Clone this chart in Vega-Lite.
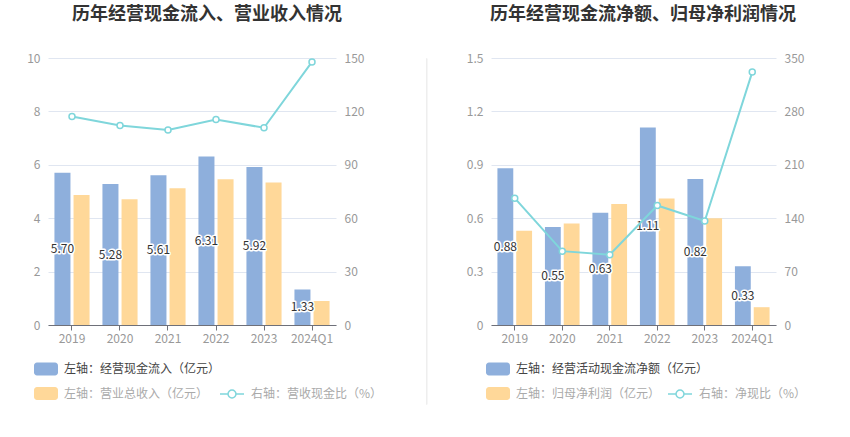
{
  "$schema": "https://vega.github.io/schema/vega-lite/v6.json",
  "padding": {"left": 26, "top": 6, "right": 0, "bottom": 0},
  "background": "#ffffff",
  "config": {
    "font": "Noto Sans CJK SC",
    "view": {"stroke": null},
    "axis": {"labelColor": "#999999", "labelFontSize": 12, "labelFont": "Noto Sans CJK SC", "title": null, "grid": false, "domain": false, "ticks": false},
    "title": {"fontSize": 18, "fontWeight": "bold", "color": "#333333", "font": "Noto Sans CJK SC"},
    "legend": {"labelFont": "Noto Sans CJK SC", "labelFontSize": 12, "labelLimit": 400, "title": null}
  },
  "datasets": {
    "lb": [
      {"year": "2019", "series": "左轴：经营现金流入（亿元）", "value": 5.70},
      {"year": "2020", "series": "左轴：经营现金流入（亿元）", "value": 5.28},
      {"year": "2021", "series": "左轴：经营现金流入（亿元）", "value": 5.61},
      {"year": "2022", "series": "左轴：经营现金流入（亿元）", "value": 6.31},
      {"year": "2023", "series": "左轴：经营现金流入（亿元）", "value": 5.92},
      {"year": "2024Q1", "series": "左轴：经营现金流入（亿元）", "value": 1.33},
      {"year": "2019", "series": "左轴：营业总收入（亿元）", "value": 4.87},
      {"year": "2020", "series": "左轴：营业总收入（亿元）", "value": 4.71},
      {"year": "2021", "series": "左轴：营业总收入（亿元）", "value": 5.12},
      {"year": "2022", "series": "左轴：营业总收入（亿元）", "value": 5.46},
      {"year": "2023", "series": "左轴：营业总收入（亿元）", "value": 5.34},
      {"year": "2024Q1", "series": "左轴：营业总收入（亿元）", "value": 0.90}
    ],
    "ll": [
      {"year": "2019", "ratio": 117.1},
      {"year": "2020", "ratio": 112.1},
      {"year": "2021", "ratio": 109.6},
      {"year": "2022", "ratio": 115.5},
      {"year": "2023", "ratio": 110.8},
      {"year": "2024Q1", "ratio": 147.8}
    ],
    "rb": [
      {"year": "2019", "series": "左轴：经营活动现金流净额（亿元）", "value": 0.88},
      {"year": "2020", "series": "左轴：经营活动现金流净额（亿元）", "value": 0.55},
      {"year": "2021", "series": "左轴：经营活动现金流净额（亿元）", "value": 0.63},
      {"year": "2022", "series": "左轴：经营活动现金流净额（亿元）", "value": 1.11},
      {"year": "2023", "series": "左轴：经营活动现金流净额（亿元）", "value": 0.82},
      {"year": "2024Q1", "series": "左轴：经营活动现金流净额（亿元）", "value": 0.33},
      {"year": "2019", "series": "左轴：归母净利润（亿元）", "value": 0.53},
      {"year": "2020", "series": "左轴：归母净利润（亿元）", "value": 0.57},
      {"year": "2021", "series": "左轴：归母净利润（亿元）", "value": 0.68},
      {"year": "2022", "series": "左轴：归母净利润（亿元）", "value": 0.71},
      {"year": "2023", "series": "左轴：归母净利润（亿元）", "value": 0.60},
      {"year": "2024Q1", "series": "左轴：归母净利润（亿元）", "value": 0.10}
    ],
    "rl": [
      {"year": "2019", "ratio": 166.3},
      {"year": "2020", "ratio": 96.8},
      {"year": "2021", "ratio": 92.0},
      {"year": "2022", "ratio": 156.7},
      {"year": "2023", "ratio": 136.3},
      {"year": "2024Q1", "ratio": 331.5}
    ]
  },
  "resolve": {"scale": {"color": "independent", "stroke": "independent"}, "legend": {"color": "independent", "stroke": "independent"}},
  "spacing": 42,
  "hconcat": [
    {
      "title": {"text": "历年经营现金流入、营业收入情况", "anchor": "middle", "dx": 15, "offset": 28},
      "width": 288,
      "height": 267,
      "layer": [
        {
          "data": {"name": "lb"},
          "encoding": {
            "x": {"field": "year", "type": "nominal", "sort": null, "scale": {"type": "band", "paddingInner": 0.27, "paddingOuter": 0.135},
              "axis": {"labelAngle": 0, "domain": true, "domainColor": "#6e7079", "ticks": true, "tickColor": "#6e7079", "tickSize": 5, "labelPadding": 3, "labelColor": "#999999"}},
            "y": {"field": "value", "type": "quantitative", "scale": {"domain": [0, 10]},
              "axis": {"values": [0, 2, 4, 6, 8, 10], "grid": true, "gridColor": "#e0e6f1", "labelPadding": 8}},
            "color": {"field": "series", "type": "nominal", "sort": null,
              "scale": {"domain": ["左轴：经营现金流入（亿元）", "左轴：营业总收入（亿元）"], "range": ["#8eafdc", "#ffd899"]},
              "legend": {"orient": "none", "legendX": -14, "legendY": 299, "direction": "vertical", "rowPadding": 5.5,
                "symbolType": "M-0.75,-0.54 H0.75 A0.25,0.25 0 0 1 1,-0.29 V0.29 A0.25,0.25 0 0 1 0.75,0.54 H-0.75 A0.25,0.25 0 0 1 -1,0.29 V-0.29 A0.25,0.25 0 0 1 -0.75,-0.54 Z",
                "symbolSize": 576, "symbolStrokeWidth": 0, "labelOffset": 6,
                "encode": {
                  "symbols": {"update": {"fill": {"signal": "datum.index === 0 ? '#8eafdc' : '#ffe9c8'"}, "opacity": {"value": 1}}},
                  "labels": {"update": {"fill": {"signal": "datum.index === 0 ? '#444444' : '#aaaaaa'"}}}
                }}
            }
          },
          "layer": [
            {
              "transform": [{"filter": "datum.series === '左轴：经营现金流入（亿元）'"}],
              "mark": {"type": "bar", "width": {"band": 0.457}, "xOffset": -9.55}
            },
            {
              "transform": [{"filter": "datum.series === '左轴：营业总收入（亿元）'"}],
              "mark": {"type": "bar", "width": {"band": 0.457}, "xOffset": 9.55}
            },
            {
              "transform": [{"filter": "datum.series === '左轴：经营现金流入（亿元）'"}, {"calculate": "datum.value / 2", "as": "mid"}],
              "mark": {"type": "text", "fontSize": 12, "stroke": "#ffffff", "strokeWidth": 3, "fill": "#ffffff", "strokeJoin": "round", "xOffset": -9.55},
              "encoding": {"color": {"value": "#ffffff"}, "y": {"field": "mid", "type": "quantitative"}, "text": {"field": "value", "type": "quantitative", "format": ".2f"}}
            },
            {
              "transform": [{"filter": "datum.series === '左轴：经营现金流入（亿元）'"}, {"calculate": "datum.value / 2", "as": "mid"}],
              "mark": {"type": "text", "fontSize": 12, "xOffset": -9.55},
              "encoding": {"color": {"value": "#333333"}, "y": {"field": "mid", "type": "quantitative"}, "text": {"field": "value", "type": "quantitative", "format": ".2f"}}
            }
          ]
        },
        {
          "data": {"name": "ll"},
          "mark": {"type": "line", "strokeWidth": 2, "point": {"filled": false, "fill": "#ffffff", "size": 36, "strokeWidth": 1.5}},
          "encoding": {
            "x": {"field": "year", "type": "nominal", "sort": null},
            "y": {"field": "ratio", "type": "quantitative", "scale": {"domain": [0, 150]},
              "axis": {"orient": "right", "values": [0, 30, 60, 90, 120, 150], "labelPadding": 8}},
            "stroke": {"datum": "右轴：营收现金比（%）", "type": "nominal", "scale": {"range": ["#7fd6db"]},
              "legend": {"orient": "none", "legendX": 171, "legendY": 323, "symbolSize": 576, "symbolStrokeWidth": 1.5, "labelOffset": 6,
                "symbolType": "M-1,0 H-0.33 M0.33,0 H1 M-0.33,0 A0.33,0.33 0 1 1 0.33,0 A0.33,0.33 0 1 1 -0.33,0 Z",
                "encode": {
                  "symbols": {"update": {"stroke": {"value": "#bfe9ec"}, "fill": {"value": "#ffffff"}, "opacity": {"value": 1}}},
                  "labels": {"update": {"fill": {"value": "#aaaaaa"}}}
                }}
            }
          }
        }
      ],
      "resolve": {"scale": {"y": "independent"}}
    },
    {
      "spacing": 39,
      "resolve": {"scale": {"color": "independent", "stroke": "independent"}, "legend": {"color": "independent", "stroke": "independent"}},
      "hconcat": [
        {
          "width": 0.5,
          "height": 346,
          "data": {"values": [{}]},
          "mark": {"type": "rule", "opacity": 0},
          "encoding": {},
          "view": {"stroke": "#eeeeee", "strokeWidth": 1}
        },
        {
          "title": {"text": "历年经营现金流净额、归母净利润情况", "anchor": "middle", "dx": 9.5, "offset": 28},
          "width": 285,
          "height": 267,
          "layer": [
            {
              "data": {"name": "rb"},
              "encoding": {
                "x": {"field": "year", "type": "nominal", "sort": null, "scale": {"type": "band", "paddingInner": 0.27, "paddingOuter": 0.135},
                  "axis": {"labelAngle": 0, "domain": true, "domainColor": "#6e7079", "ticks": true, "tickColor": "#6e7079", "tickSize": 5, "labelPadding": 3, "labelColor": "#999999"}},
                "y": {"field": "value", "type": "quantitative", "scale": {"domain": [0, 1.5]},
                  "axis": {"values": [0, 0.3, 0.6, 0.9, 1.2, 1.5], "format": ".1~f", "grid": true, "gridColor": "#e0e6f1", "labelPadding": 8}},
                "color": {"field": "series", "type": "nominal", "sort": null,
                  "scale": {"domain": ["左轴：经营活动现金流净额（亿元）", "左轴：归母净利润（亿元）"], "range": ["#8eafdc", "#ffd899"]},
                  "legend": {"orient": "none", "legendX": -5, "legendY": 299, "direction": "vertical", "rowPadding": 5.5,
                    "symbolType": "M-0.75,-0.54 H0.75 A0.25,0.25 0 0 1 1,-0.29 V0.29 A0.25,0.25 0 0 1 0.75,0.54 H-0.75 A0.25,0.25 0 0 1 -1,0.29 V-0.29 A0.25,0.25 0 0 1 -0.75,-0.54 Z",
                    "symbolSize": 576, "symbolStrokeWidth": 0, "labelOffset": 6,
                    "encode": {
                      "symbols": {"update": {"fill": {"signal": "datum.index === 0 ? '#8eafdc' : '#ffe9c8'"}, "opacity": {"value": 1}}},
                      "labels": {"update": {"fill": {"signal": "datum.index === 0 ? '#444444' : '#aaaaaa'"}}}
                    }}
                }
              },
              "layer": [
                {
                  "transform": [{"filter": "datum.series === '左轴：经营活动现金流净额（亿元）'"}],
                  "mark": {"type": "bar", "width": {"band": 0.457}, "xOffset": -9.4}
                },
                {
                  "transform": [{"filter": "datum.series === '左轴：归母净利润（亿元）'"}],
                  "mark": {"type": "bar", "width": {"band": 0.457}, "xOffset": 9.4}
                },
                {
                  "transform": [{"filter": "datum.series === '左轴：经营活动现金流净额（亿元）'"}, {"calculate": "datum.value / 2", "as": "mid"}],
                  "mark": {"type": "text", "fontSize": 12, "stroke": "#ffffff", "strokeWidth": 3, "strokeJoin": "round", "xOffset": -9.4},
                  "encoding": {"color": {"value": "#ffffff"}, "y": {"field": "mid", "type": "quantitative"}, "text": {"field": "value", "type": "quantitative", "format": ".2f"}}
                },
                {
                  "transform": [{"filter": "datum.series === '左轴：经营活动现金流净额（亿元）'"}, {"calculate": "datum.value / 2", "as": "mid"}],
                  "mark": {"type": "text", "fontSize": 12, "xOffset": -9.4},
                  "encoding": {"color": {"value": "#333333"}, "y": {"field": "mid", "type": "quantitative"}, "text": {"field": "value", "type": "quantitative", "format": ".2f"}}
                }
              ]
            },
            {
              "data": {"name": "rl"},
              "mark": {"type": "line", "strokeWidth": 2, "point": {"filled": false, "fill": "#ffffff", "size": 36, "strokeWidth": 1.5}},
              "encoding": {
                "x": {"field": "year", "type": "nominal", "sort": null},
                "y": {"field": "ratio", "type": "quantitative", "scale": {"domain": [0, 350]},
                  "axis": {"orient": "right", "values": [0, 70, 140, 210, 280, 350], "labelPadding": 8}},
                "stroke": {"datum": "右轴：净现比（%）", "type": "nominal", "scale": {"range": ["#7fd6db"]},
                  "legend": {"orient": "none", "legendX": 176, "legendY": 323, "symbolSize": 576, "symbolStrokeWidth": 1.5, "labelOffset": 6,
                    "symbolType": "M-1,0 H-0.33 M0.33,0 H1 M-0.33,0 A0.33,0.33 0 1 1 0.33,0 A0.33,0.33 0 1 1 -0.33,0 Z",
                    "encode": {
                      "symbols": {"update": {"stroke": {"value": "#bfe9ec"}, "fill": {"value": "#ffffff"}, "opacity": {"value": 1}}},
                      "labels": {"update": {"fill": {"value": "#aaaaaa"}}}
                    }}
                }
              }
            }
          ],
          "resolve": {"scale": {"y": "independent"}}
        }
      ]
    }
  ]
}
